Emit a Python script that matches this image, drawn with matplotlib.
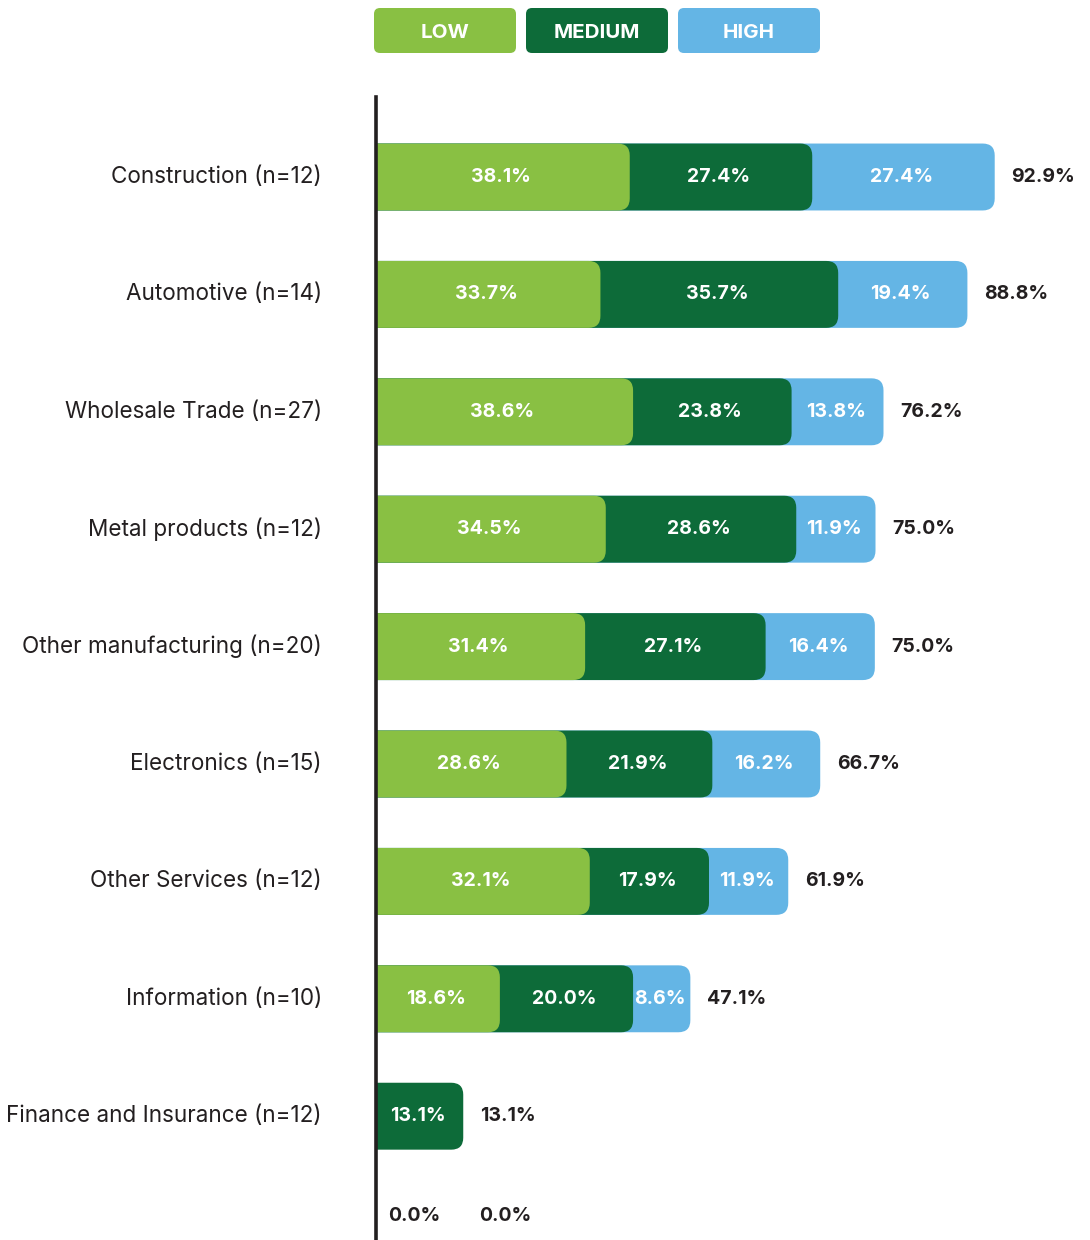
import numpy as np
import matplotlib.pyplot as plt
from matplotlib.patches import FancyBboxPatch

# share of firms by risk level, per industry
categories = ["Construction (n=12)", "Automotive (n=14)", "Wholesale Trade (n=27)",
              "Metal products (n=12)", "Other manufacturing (n=20)", "Electronics (n=15)",
              "Other Services (n=12)", "Information (n=10)", "Finance and Insurance (n=12)", ""]
low = [38.1, 33.7, 38.6, 34.5, 31.4, 28.6, 32.1, 18.6, 0.0, 0.0]
medium = [27.4, 35.7, 23.8, 28.6, 27.1, 21.9, 17.9, 20.0, 13.1, 0.0]
high = [27.4, 19.4, 13.8, 11.9, 16.4, 16.2, 11.9, 8.6, 0.0, 0.0]
totals = [92.9, 88.8, 76.2, 75.0, 75.0, 66.7, 61.9, 47.1, 13.1, 0.0]
series_names = ["LOW", "MEDIUM", "HIGH"]
colors = ["#89C043", "#0D6B39", "#64B5E5"]
dark = "#231F20"

plt.rcParams['font.family'] = ['Inter', 'DejaVu Sans']

W, H = 1090, 1240
fig = plt.figure(figsize=(W / 100, H / 100), dpi=100)

# main axes: left edge is the vertical baseline
px_per_unit = 6.66
row_px = 117.4
ax_left, ax_top = 376, 97
ax = fig.add_axes([ax_left / W, 0, (W - ax_left) / W, (H - ax_top) / H])
ax.set_xlim(0, (W - ax_left) / px_per_unit)
first_row = 177
ax.set_ylim((H - first_row) / row_px, -(first_row - ax_top) / row_px)
for s in ["top", "right", "bottom"]:
    ax.spines[s].set_visible(False)
ax.spines["left"].set_linewidth(2.6)
ax.spines["left"].set_color(dark)
ax.set_xticks([])
ax.set_yticks([])

# row centres; the unlabelled last row sits a bit closer
rows = np.arange(len(categories), dtype=float)
rows[-1] = rows[-2] + 0.85

bar_h = 0.57
rad = 12 / px_per_unit
aspect = (12 / row_px) / rad

seg = np.array([low, medium, high])
cum = np.cumsum(seg, axis=0)

for i, cat in enumerate(categories):
    y = rows[i]
    # draw from the back: full bar first, then medium, then low on top
    for k in [2, 1, 0]:
        if seg[k][i] <= 0:
            continue
        end = cum[k][i]
        p = FancyBboxPatch((-3, y - bar_h / 2), end + 3, bar_h,
                           boxstyle=f"round,pad=0,rounding_size={rad}",
                           mutation_aspect=aspect, fc=colors[k], ec="none", zorder=2)
        ax.add_patch(p)
    for k in range(3):
        v = seg[k][i]
        if v <= 0:
            continue
        start = cum[k][i] - v
        ax.text(start + v / 2 - 0.3, y, f"{v:.1f}%", ha="center", va="center",
                color="white", fontsize=14, fontweight="bold", zorder=3)
    if totals[i] > 0:
        ax.text(cum[2][i] + 2.5, y, f"{totals[i]:.1f}%", ha="left", va="center",
                color=dark, fontsize=14, fontweight="bold")
    else:
        ax.text(1.8, y, "0.0%", ha="left", va="center",
                color=dark, fontsize=14, fontweight="bold")
        ax.text(15.5, y, f"{totals[i]:.1f}%", ha="left", va="center",
                color=dark, fontsize=14, fontweight="bold")
    if cat:
        ax.text(-54 / px_per_unit, y, cat, ha="right", va="center",
                color=dark, fontsize=16.2, clip_on=False)

# legend boxes along the top, in pixel units
lg = fig.add_axes([0, 0, 1, 1], zorder=5)
lg.set_xlim(0, W)
lg.set_ylim(H, 0)
lg.axis("off")
box_w, box_h, gap = 142, 45, 10
x0, y0 = 374, 8
for j, name in enumerate(series_names):
    bx = x0 + j * (box_w + gap)
    lg.add_patch(FancyBboxPatch((bx, y0), box_w, box_h,
                                boxstyle="round,pad=0,rounding_size=6",
                                fc=colors[j], ec="none"))
    lg.text(bx + box_w / 2, y0 + box_h / 2 + 3, name, ha="center", va="center",
            color="white", fontsize=14.8, fontweight="bold")

fig.savefig("out.png", dpi=100)
